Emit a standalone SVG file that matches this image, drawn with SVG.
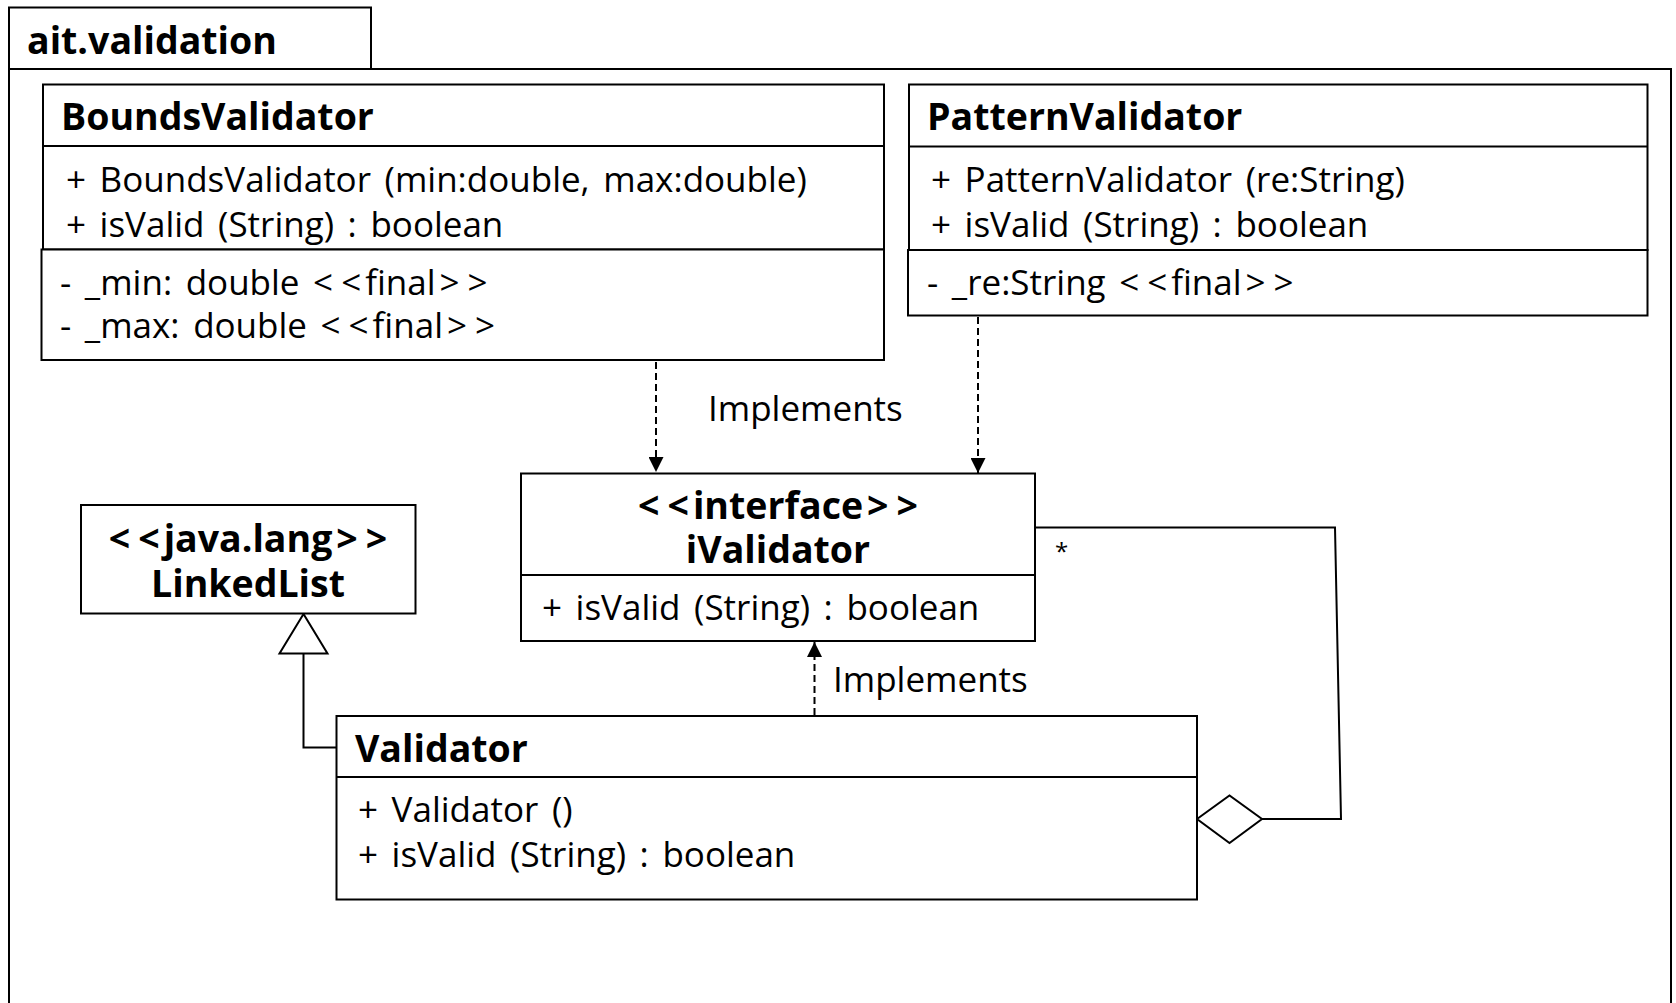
<svg xmlns="http://www.w3.org/2000/svg" width="1676" height="1003" viewBox="0 0 1676 1003">
  <defs>
    <style>
      .box { fill: #fff; stroke: #000; stroke-width: 2; }
      .line { fill: none; stroke: #000; stroke-width: 2; }
      .dash { fill: none; stroke: #000; stroke-width: 2; stroke-dasharray: 7 4; }
      .hollow { fill: #fff; stroke: #000; stroke-width: 2; stroke-linejoin: miter; }
      text { font-family: "Open Sans", "DejaVu Sans", sans-serif; fill: #000; }
      .t { font-size: 35px; word-spacing: 4.5px; }
      .b { font-size: 37.5px; font-weight: bold; }
      .c { text-anchor: middle; }
      .star { font-size: 24px; }
    </style>
    <marker id="arrow" viewBox="0 0 15 15" refX="15" refY="7.5" markerWidth="15" markerHeight="15" markerUnits="userSpaceOnUse" orient="auto">
      <path d="M0,0 L15,7.5 L0,15 Z" fill="#000"/>
    </marker>
  </defs>

  <rect width="1676" height="1003" fill="#fff"/>

  <!-- package frame -->
  <g id="package">
    <rect class="box" x="9" y="7.5" width="362" height="61.5"/>
    <path class="line" d="M9,1010 L9,69 L1671,69 L1671,1010"/>
    <text class="b" x="27" y="54">ait.validation</text>
  </g>

  <!-- connectors -->
  <g id="connectors">
    <path class="dash" d="M656,362 L656,472" marker-end="url(#arrow)"/>
    <path class="dash" d="M978,317 L978,473" marker-end="url(#arrow)"/>
    <path class="dash" d="M814.5,715 L814.5,642" marker-end="url(#arrow)"/>
    <text class="t" x="708" y="421">Implements</text>
    <text class="t" x="833" y="692">Implements</text>

    <!-- generalization to LinkedList -->
    <path class="line" d="M336.5,747.5 L303.5,747.5 L303.5,653.5"/>
    <polygon class="hollow" points="303.5,614 279.5,653.5 327.5,653.5"/>

    <!-- aggregation of iValidator -->
    <path class="line" d="M1035,527.5 L1335,527.5 L1341,819 L1262,819"/>
    <polygon class="hollow" points="1197,819 1229.5,795.5 1262,819 1229.5,843"/>
    <text class="star" x="1055" y="560">*</text>
  </g>

  <!-- BoundsValidator -->
  <g id="BoundsValidator">
    <rect class="box" x="43" y="84.5" width="841" height="165"/>
    <rect class="box" x="41.5" y="249.5" width="842.5" height="110.5"/>
    <line class="line" x1="43" y1="146" x2="884" y2="146"/>
    <text class="b" x="61" y="130">BoundsValidator</text>
    <text class="t" x="66" y="192">+ BoundsValidator (min:double, max:double)</text>
    <text class="t" x="66" y="237">+ isValid (String) : boolean</text>
    <text class="t" x="60" y="295">- _min: double &lt;<tspan dx="8">&lt;</tspan><tspan dx="4">final</tspan><tspan dx="4">&gt;</tspan><tspan dx="8">&gt;</tspan></text>
    <text class="t" x="60" y="338">- _max: double &lt;<tspan dx="8">&lt;</tspan><tspan dx="4">final</tspan><tspan dx="4">&gt;</tspan><tspan dx="8">&gt;</tspan></text>
  </g>

  <!-- PatternValidator -->
  <g id="PatternValidator">
    <rect class="box" x="909" y="84.5" width="738.5" height="165.5"/>
    <rect class="box" x="908" y="250" width="739.5" height="65.5"/>
    <line class="line" x1="909" y1="146.5" x2="1647.5" y2="146.5"/>
    <text class="b" x="927" y="130">PatternValidator</text>
    <text class="t" x="931" y="192">+ PatternValidator (re:String)</text>
    <text class="t" x="931" y="237">+ isValid (String) : boolean</text>
    <text class="t" x="927" y="295">- _re:String &lt;<tspan dx="8">&lt;</tspan><tspan dx="4">final</tspan><tspan dx="4">&gt;</tspan><tspan dx="8">&gt;</tspan></text>
  </g>

  <!-- iValidator interface -->
  <g id="iValidator">
    <rect class="box" x="521" y="473.5" width="514" height="167.5"/>
    <line class="line" x1="521" y1="575" x2="1035" y2="575"/>
    <text class="b c" x="778" y="519">&lt;<tspan dx="8">&lt;</tspan><tspan dx="4">interface</tspan><tspan dx="4">&gt;</tspan><tspan dx="8">&gt;</tspan></text>
    <text class="b c" x="778" y="563">iValidator</text>
    <text class="t" x="542" y="620">+ isValid (String) : boolean</text>
  </g>

  <!-- LinkedList -->
  <g id="LinkedList">
    <rect class="box" x="81" y="505" width="334.5" height="108.5"/>
    <text class="b c" x="248" y="552">&lt;<tspan dx="8">&lt;</tspan><tspan dx="4">java.lang</tspan><tspan dx="4">&gt;</tspan><tspan dx="8">&gt;</tspan></text>
    <text class="b c" x="248" y="597">LinkedList</text>
  </g>

  <!-- Validator -->
  <g id="Validator">
    <rect class="box" x="336.5" y="716" width="860.5" height="183.5"/>
    <line class="line" x1="336.5" y1="777" x2="1197" y2="777"/>
    <text class="b" x="355" y="762">Validator</text>
    <text class="t" x="358" y="822">+ Validator ()</text>
    <text class="t" x="358" y="867">+ isValid (String) : boolean</text>
  </g>
</svg>
